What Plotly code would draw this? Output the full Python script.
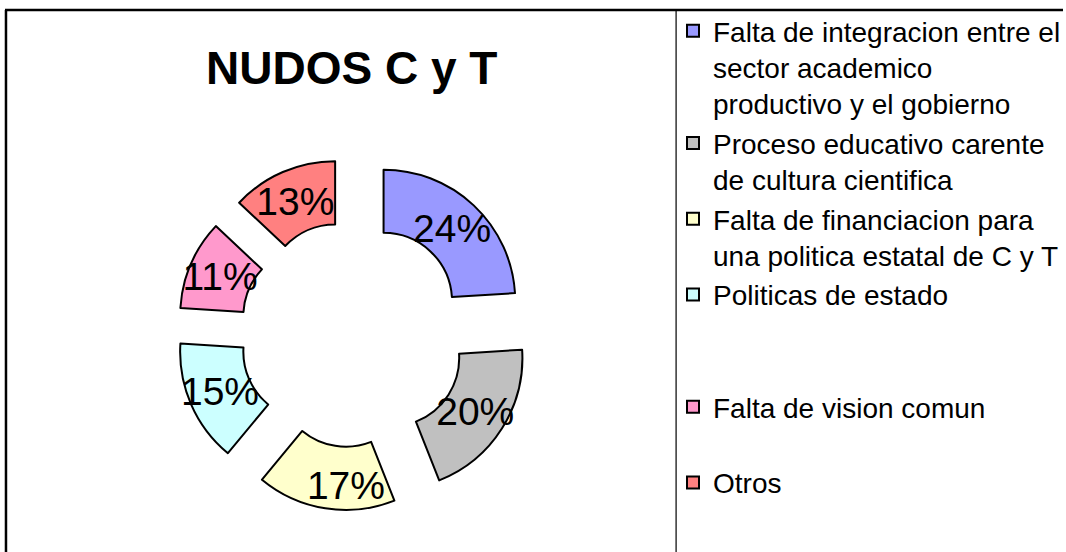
import plotly.graph_objects as go

# data
labels = [
    "Falta de integracion entre el<br>sector academico<br>productivo y el gobierno",
    "Proceso educativo carente<br>de cultura cientifica",
    "Falta de financiacion para<br>una politica estatal de C y T",
    "Politicas de estado<br>\u00a0<br>\u00a0",
    "Falta de vision comun<br>\u00a0",
    "Otros",
]
values = [24, 20, 17, 15, 11, 13]
colors = ["#9999FF", "#C0C0C0", "#FFFFCC", "#CCFFFF", "#FF99CC", "#FF8080"]

FONT = "Arial, Liberation Sans, sans-serif"

fig = go.Figure(go.Pie(
    labels=labels,
    values=values,
    hole=0.52,
    pull=0.34,
    sort=False,
    direction="clockwise",
    rotation=0,
    marker=dict(colors=colors, line=dict(color="black", width=2)),
    texttemplate="%{percent:.0%}",
    textposition="inside",
    insidetextorientation="horizontal",
    textfont=dict(size=39, color="black", family=FONT),
    domain=dict(x=[0.166, 0.498], y=[0.0743, 0.7156]),
))

fig.update_layout(
    width=1066, height=552,
    margin=dict(l=0, r=0, t=0, b=0),
    paper_bgcolor="white",
    font=dict(family=FONT, color="black"),
    title=dict(text="NUDOS C y T", x=0.330, y=0.877, xanchor="center", yanchor="middle",
               font=dict(size=46, weight="bold", color="black", family=FONT)),
    uniformtext=dict(mode="show", minsize=39),
    legend=dict(x=675 / 1066, y=1 - 6 / 552, xanchor="left", yanchor="top",
                valign="top", bgcolor="rgba(0,0,0,0)",
                font=dict(size=28, color="black", family=FONT)),
    shapes=[
        dict(type="line", xref="paper", yref="paper", x0=5 / 1066, x1=1, y0=1 - 10 / 552, y1=1 - 10 / 552,
             line=dict(color="black", width=2.5)),
        dict(type="line", xref="paper", yref="paper", x0=6 / 1066, x1=6 / 1066, y0=0, y1=1 - 10 / 552,
             line=dict(color="black", width=2.5)),
        dict(type="line", xref="paper", yref="paper", x0=678 / 1066, x1=678 / 1066, y0=0, y1=1 - 10 / 552,
             line=dict(color="black", width=1.2)),
    ],
)

# page body has a default 8px margin; remove it so the chart sits at the window corner
fig.write_html("out.html", config={"displayModeBar": False},
               post_script="document.body.style.margin='0';document.body.style.overflow='hidden';")
